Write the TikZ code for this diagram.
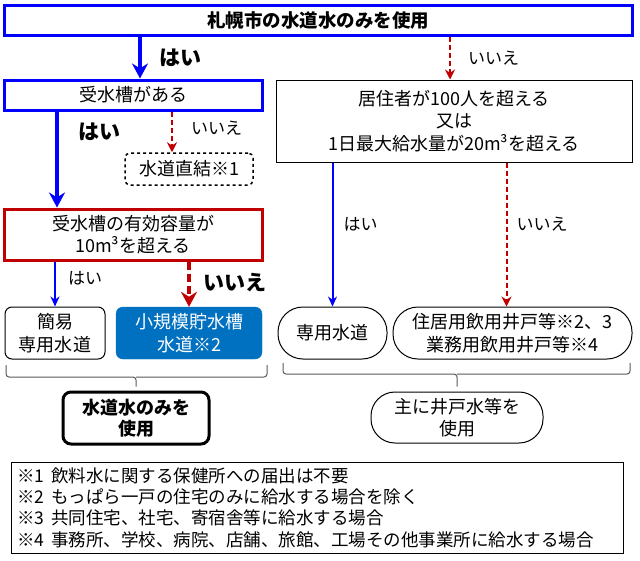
\documentclass[tikz,border=0pt]{standalone}
\usepackage{fontspec}
\setmainfont{Noto Sans CJK JP}
\usetikzlibrary{arrows.meta,calc}

\definecolor{flowblue}{HTML}{0000FF}
\definecolor{flowred}{HTML}{C00000}
\definecolor{smallfill}{HTML}{0070C0}

\begin{document}
\begin{tikzpicture}[
  x=1pt, y=-1pt, font=\fontsize{18}{22.5}\selectfont, >=Stealth,
  box/.style={draw, align=center, inner sep=0pt},
  yesbig/.style={draw=flowblue, line width=3.5pt, -{Stealth[length=15pt, width=16pt]}},
  yesthin/.style={draw=flowblue, line width=2pt, -{Stealth[length=10pt, width=9pt]}},
  nothin/.style={draw=flowred, line width=2pt, dash pattern=on 5pt off 3pt, -{Stealth[length=10pt, width=10pt]}},
  nobig/.style={draw=flowred, line width=4pt, dash pattern=on 8pt off 4pt, -{Stealth[length=15pt, width=16pt]}},
  lbl/.style={font=\fontsize{17}{20}\selectfont, inner sep=0pt},
  lblbold/.style={font=\fontsize{21}{24}\selectfont\bfseries, inner sep=0pt},
  brace/.style={draw=gray!70!black, line width=1pt, rounded corners=3pt},
]
\useasboundingbox (0,0) rectangle (640,560);

% 判定ボックス（上から順に）
\node[box, draw=flowblue, line width=3pt, minimum width=628pt, minimum height=30pt,
      font=\fontsize{18.5}{22}\selectfont\bfseries] (top) at (318,20) {札幌市の水道水のみを使用};
\node[box, draw=flowblue, line width=3pt, minimum width=258pt, minimum height=30pt] (tank) at (133,95) {受水槽がある};
\node[box, line width=1pt, minimum width=356pt, minimum height=82pt] (cond) at (454,121)
  {居住者が100人を超える\\又は\\1日最大給水量が20m³を超える};
\node[box, dashed, line width=1.5pt, rounded corners=5pt, minimum width=128pt, minimum height=32pt] (direct) at (189,169) {水道直結※1};
\node[box, draw=flowred, line width=3pt, minimum width=258pt, minimum height=51pt] (capacity) at (133,234.5)
  {受水槽の有効容量が\\10m³を超える};

% 結果ボックス
\node[box, line width=1pt, rounded corners=7pt, minimum width=100pt, minimum height=52pt] (simple) at (55,333) {簡易\\専用水道};
\node[box, draw=smallfill, fill=smallfill, text=white, rounded corners=7pt, minimum width=146pt, minimum height=52pt] (small) at (189,333) {小規模貯水槽\\水道※2};
\node[box, line width=1pt, rounded corners=25pt, minimum width=109pt, minimum height=52pt] (privw) at (332.5,333) {専用水道};
\node[box, line width=1pt, rounded corners=25pt, minimum width=239pt, minimum height=52pt] (well) at (512.5,333)
  {住居用飲用井戸等※2、3\\業務用飲用井戸等※4};

\node[box, line width=3pt, rounded corners=8pt, minimum width=146pt, minimum height=52pt,
      font=\fontsize{18}{21}\selectfont\bfseries] (tapuse) at (136,418) {水道水のみを\\使用};
\node[box, line width=1pt, rounded corners=24pt, minimum width=172pt, minimum height=51pt] (welluse) at (457,417.5) {主に井戸水等を\\使用};

% 注記
\node[box, line width=1pt, minimum width=612pt, minimum height=91pt, align=left, text width=600pt,
      font=\fontsize{17.5}{21.3}\selectfont] (notes) at (317,507.5)
  {※1\hspace{7pt}飲料水に関する保健所への届出は不要\\
   ※2\hspace{7pt}もっぱら一戸の住宅のみに給水する場合を除く\\
   ※3\hspace{7pt}共同住宅、社宅、寄宿舎等に給水する場合\\
   ※4\hspace{7pt}事務所、学校、病院、店舗、旅館、工場その他事業所に給水する場合};

% 矢印
\draw[yesbig] ([xshift=7pt]tank.north |- top.south) -- node[lblbold, right, xshift=18pt]{はい} ([xshift=7pt]tank.north);
\draw[nothin] ([xshift=-4pt]cond.north |- top.south) -- node[lbl, right, xshift=17pt]{いいえ} ([xshift=-4pt]cond.north);
\draw[yesbig] ([xshift=-76pt]capacity.north |- tank.south) -- node[lblbold, pos=0.21, right, xshift=20pt]{はい} ([xshift=-76pt]capacity.north);
\draw[nothin] ([xshift=-17pt]direct.north |- tank.south) -- node[lbl, pos=0.4, right, xshift=18pt]{いいえ} ([xshift=-17pt]direct.north);
\draw[yesthin] (simple.north |- capacity.south) -- node[lbl, pos=0.38, right, xshift=12pt]{はい} (simple.north);
\draw[nobig] (small.north |- capacity.south) -- node[lblbold, pos=0.47, right, xshift=12pt]{いいえ} (small.north);
\draw[yesthin] (privw.north |- cond.south) -- node[lbl, pos=0.43, right, xshift=10pt]{はい} (privw.north);
\draw[nothin] ([xshift=-6pt]well.north |- cond.south) -- node[lbl, pos=0.43, right, xshift=9pt]{いいえ} ([xshift=-6pt]well.north);

% 括弧
\draw[brace] (6,365) |- (136,377) -- ([yshift=4pt]tapuse.north);
\draw[brace] (267,365) |- (136,377);
\draw[brace] (283,363) |- (457,374) -- ([yshift=5pt]welluse.north);
\draw[brace] (630,363) |- (457,374);
\end{tikzpicture}
\end{document}
